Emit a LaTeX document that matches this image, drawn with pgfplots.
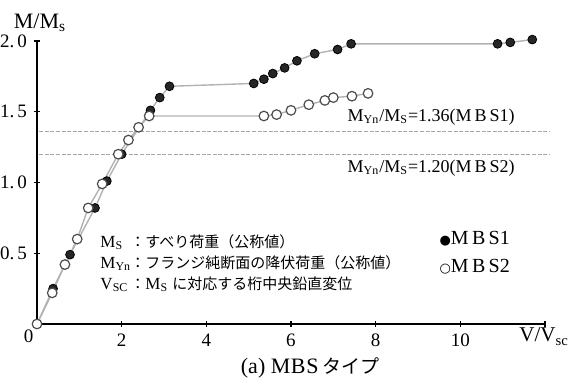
\documentclass[border=0pt]{standalone}
\usepackage{pgfplots}
\pgfplotsset{compat=1.18}
\usepackage{fontspec}
\setmainfont{Liberation Serif}
\newfontfamily\jp{Noto Sans CJK JP}
\newfontfamily\dejavu{DejaVu Sans}
\begin{document}
\begin{tikzpicture}
\path[use as bounding box] (-18.5pt,-28pt) rectangle (266.5pt,162pt);
\begin{axis}[
  width=254pt, height=141.5pt, scale only axis,
  xmin=0, xmax=12, ymin=0, ymax=2,
  axis x line=bottom, axis y line=left,
  axis line style={-, line width=0.8pt},
  clip=false,
  xtick={2,4,6,8,10,12}, xticklabels={2,4,6,8,10,},
  ytick={0.5,1.0,1.5,2.0}, yticklabels={0.\,5,1.\,0,1.\,5,2.\,0},
  tick label style={font=\fontsize{9.5}{10}\selectfont},
  tick align=center, major tick length=3pt,
  tick style={line width=0.6pt, black},
]
% reference lines
\addplot[gray!70, line width=0.6pt, dash pattern=on 2pt off 0.8pt] coordinates {(0.05,1.36) (12.1,1.36)};
\addplot[gray!70, line width=0.6pt, dash pattern=on 2pt off 0.8pt] coordinates {(0.05,1.20) (12.1,1.20)};
% MBS1
\addplot[gray!60, line width=0.7pt, mark=*, mark size=2.2pt, mark options={fill=black!85, draw=black, line width=0.4pt}] coordinates {
(0,0) (0.38,0.25) (0.78,0.49) (1.37,0.82) (1.65,1.01) (2.0,1.20) (2.68,1.51) (2.9,1.60) (3.13,1.68)
(5.12,1.70) (5.36,1.73) (5.57,1.77) (5.85,1.81) (6.14,1.86) (6.56,1.91) (7.1,1.94) (7.42,1.98)
(10.88,1.98) (11.18,1.99) (11.7,2.01)};
% MBS2
\addplot[gray!60, line width=0.7pt, mark=*, mark size=2.4pt, mark options={fill=white, draw=black!70, line width=0.6pt}] coordinates {
(0,0) (0.36,0.22) (0.66,0.42) (0.95,0.60) (1.21,0.82) (1.54,0.99) (1.92,1.20) (2.16,1.30) (2.4,1.39) (2.65,1.47)
(5.36,1.47) (5.66,1.48) (6.0,1.51) (6.42,1.55) (6.8,1.58) (7.0,1.60) (7.44,1.61) (7.82,1.63)};
% texts
\node[font=\fontsize{9.5}{10}\selectfont] at (axis cs:-0.2,-0.09) {0};
\node[font=\fontsize{11}{12}\selectfont] at (axis cs:0.07,2.13) {M/M\textsubscript{s}};
\node[font=\fontsize{10.5}{12}\selectfont] at (axis cs:11.98,-0.09) {V/V\textsubscript{sc}};
\node[font=\fontsize{11}{12}\selectfont] at (axis cs:6.45,-0.31) {(a) M\kern0.3pt B\kern0.3pt S\,{\jp\fontsize{9.5}{10}\selectfont タイプ}};
\node[anchor=west, font=\fontsize{9}{11}\selectfont, inner sep=0pt] at (axis cs:7.33,1.46) {M\textsubscript{Yn}/M\textsubscript{S}=1.36(M\,B\,S1)};
\node[anchor=west, font=\fontsize{9}{11}\selectfont, inner sep=0pt] at (axis cs:7.33,1.10) {M\textsubscript{Yn}/M\textsubscript{S}=1.20(M\,B\,S2)};
\node[anchor=west, font=\fontsize{8.5}{10}\selectfont, inner sep=0pt] at (axis cs:1.49,0.58) {\makebox[15pt][l]{M\textsubscript{S}}{\jp\fontsize{7.5}{9}\selectfont ：すべり荷重（公称値）}};
\node[anchor=west, font=\fontsize{8.5}{10}\selectfont, inner sep=0pt] at (axis cs:1.49,0.43) {\makebox[15pt][l]{M\textsubscript{Yn}}{\jp\fontsize{7.5}{9}\selectfont ：フランジ純断面の降伏荷重（公称値）}};
\node[anchor=west, font=\fontsize{8.5}{10}\selectfont, inner sep=0pt] at (axis cs:1.49,0.28) {\makebox[15pt][l]{V\textsubscript{SC}}{\jp\fontsize{7.5}{9}\selectfont ：}M\textsubscript{S} {\jp\fontsize{7.5}{9}\selectfont に対応する桁中央鉛直変位}};
\node[anchor=west, font=\fontsize{10}{11}\selectfont, inner sep=0pt] at (axis cs:9.5,0.605) {{\dejavu\fontsize{6.5}{8}\selectfont ●}M\,B\,S1};
\node[anchor=west, font=\fontsize{10}{11}\selectfont, inner sep=0pt] at (axis cs:9.5,0.405) {{\dejavu\fontsize{6.5}{8}\selectfont ○}M\,B\,S2};
\end{axis}
\end{tikzpicture}
\end{document}
